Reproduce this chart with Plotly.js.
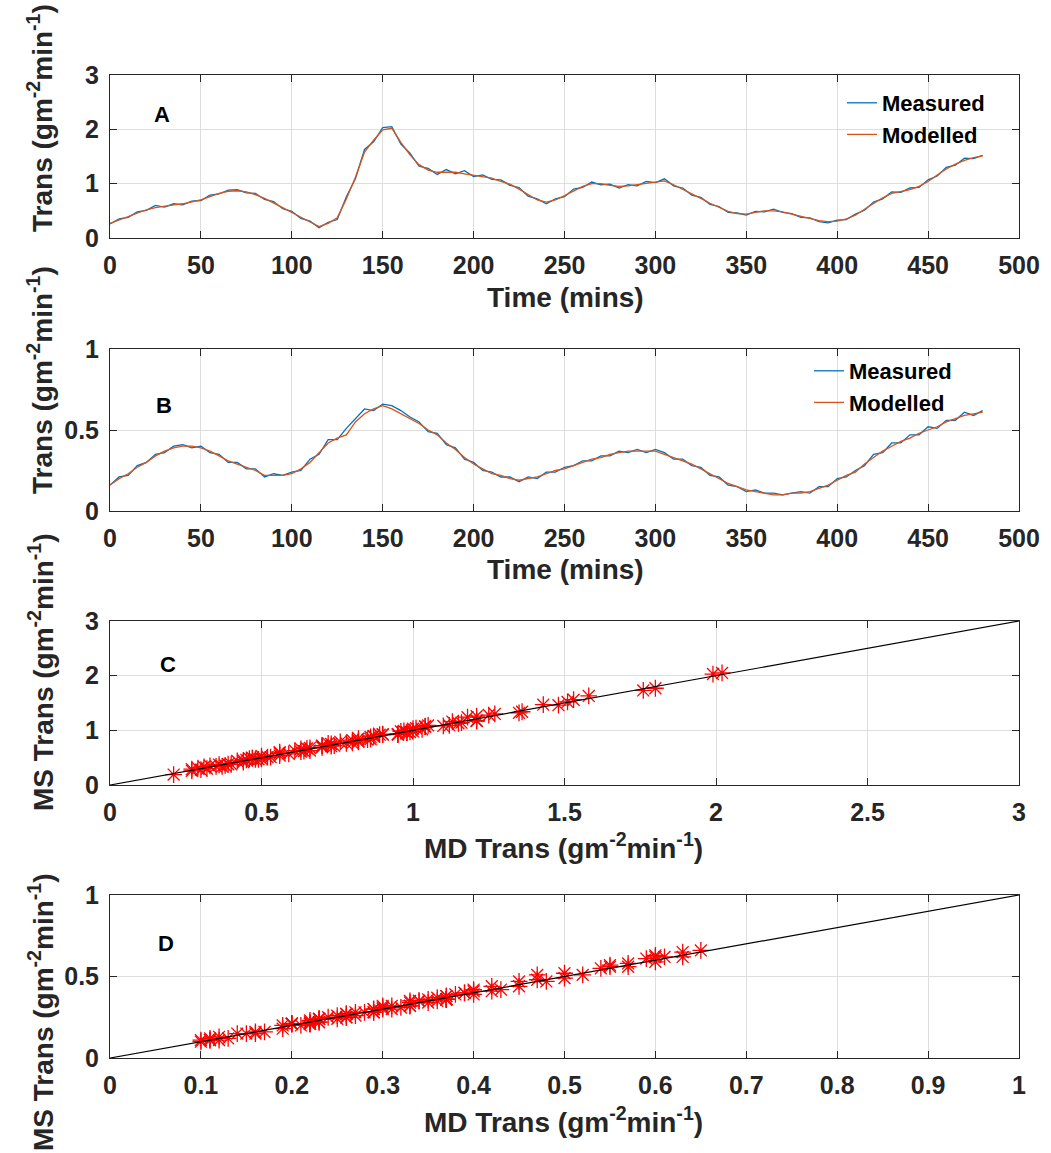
<!DOCTYPE html>
<html>
<head>
<meta charset="utf-8">
<script src="https://cdn.plot.ly/plotly-3.0.1.min.js"></script>
<style>html,body{margin:0;padding:0;background:#fff;}#chart{width:1051px;height:1153px;}</style>
</head>
<body>
<div id="chart"></div>
<script>
// ---------- DATA ----------
const timeMins = [0,5,10,15,20,25,30,35,40,45,50,55,60,65,70,75,80,85,90,95,100,105,110,115,120,125,130,135,140,145,150,155,160,165,170,175,180,185,190,195,200,205,210,215,220,225,230,235,240,245,250,255,260,265,270,275,280,285,290,295,300,305,310,315,320,325,330,335,340,345,350,355,360,365,370,375,380,385,390,395,400,405,410,415,420,425,430,435,440,445,450,455,460,465,470,475,480];

const measuredA = [0.26,0.35,0.38,0.48,0.51,0.60,0.57,0.63,0.61,0.68,0.69,0.79,0.81,0.88,0.89,0.83,0.82,0.71,0.67,0.54,0.49,0.36,0.31,0.19,0.29,0.34,0.76,1.09,1.63,1.77,2.03,2.05,1.73,1.56,1.32,1.28,1.17,1.26,1.18,1.24,1.13,1.16,1.08,1.07,0.97,0.93,0.77,0.72,0.63,0.72,0.76,0.90,0.93,1.03,0.98,0.99,0.92,0.98,0.96,1.04,1.02,1.09,0.96,0.92,0.79,0.75,0.62,0.58,0.47,0.46,0.42,0.49,0.48,0.53,0.47,0.45,0.38,0.37,0.30,0.28,0.33,0.34,0.44,0.51,0.66,0.72,0.85,0.84,0.92,0.93,1.07,1.14,1.30,1.34,1.47,1.46,1.52];

const modelledA = [0.27,0.33,0.39,0.46,0.52,0.56,0.59,0.61,0.63,0.66,0.70,0.76,0.82,0.86,0.87,0.85,0.80,0.73,0.65,0.56,0.47,0.38,0.29,0.21,0.27,0.37,0.72,1.12,1.58,1.80,1.99,2.02,1.76,1.53,1.35,1.25,1.21,1.21,1.21,1.18,1.15,1.13,1.10,1.04,0.99,0.90,0.80,0.70,0.66,0.70,0.78,0.87,0.95,1.00,1.00,0.97,0.95,0.96,0.98,1.01,1.03,1.05,0.98,0.90,0.82,0.73,0.64,0.56,0.49,0.45,0.44,0.47,0.50,0.50,0.48,0.44,0.40,0.36,0.32,0.30,0.31,0.35,0.42,0.53,0.63,0.74,0.82,0.86,0.89,0.95,1.04,1.16,1.27,1.36,1.43,1.48,1.51];

const measuredB = [0.16,0.21,0.22,0.28,0.30,0.35,0.36,0.40,0.41,0.39,0.40,0.36,0.35,0.30,0.30,0.26,0.26,0.21,0.23,0.22,0.24,0.25,0.32,0.35,0.44,0.44,0.51,0.57,0.63,0.62,0.66,0.65,0.62,0.58,0.55,0.49,0.48,0.41,0.39,0.32,0.30,0.25,0.24,0.21,0.21,0.18,0.21,0.20,0.24,0.24,0.27,0.28,0.31,0.31,0.34,0.34,0.37,0.36,0.38,0.36,0.38,0.36,0.32,0.32,0.28,0.27,0.22,0.21,0.16,0.15,0.12,0.13,0.11,0.11,0.10,0.11,0.12,0.11,0.15,0.15,0.20,0.21,0.25,0.28,0.35,0.36,0.42,0.42,0.47,0.47,0.52,0.51,0.56,0.56,0.61,0.59,0.62];

const modelledB = [0.16,0.20,0.23,0.27,0.30,0.34,0.37,0.39,0.40,0.40,0.39,0.37,0.34,0.31,0.29,0.27,0.25,0.22,0.22,0.22,0.23,0.26,0.30,0.36,0.42,0.45,0.47,0.55,0.60,0.63,0.65,0.63,0.60,0.57,0.54,0.50,0.47,0.42,0.38,0.33,0.29,0.26,0.23,0.22,0.20,0.19,0.20,0.21,0.23,0.25,0.26,0.28,0.30,0.32,0.33,0.35,0.36,0.37,0.37,0.37,0.37,0.35,0.33,0.31,0.29,0.26,0.23,0.20,0.17,0.15,0.13,0.12,0.11,0.10,0.10,0.11,0.11,0.12,0.14,0.16,0.19,0.22,0.24,0.29,0.33,0.37,0.40,0.43,0.45,0.48,0.50,0.52,0.55,0.57,0.59,0.60,0.61];

const oneToOneC = [0, 3];
const oneToOneD = [0, 1];

const seriesNames = ['Measured', 'Modelled'];
const panelLetters = ['A', 'B', 'C', 'D'];
const timeTitle = 'Time (mins)';
const transTitle = 'Trans (gm<sup>-2</sup>min<sup>-1</sup>)';
const msTitle = 'MS Trans (gm<sup>-2</sup>min<sup>-1</sup>)';
const mdTitle = 'MD Trans (gm<sup>-2</sup>min<sup>-1</sup>)';

// ---------- STYLE / LAYOUT ----------
const W = 1051, H = 1153;
const px = v => v / W;
const py = v => 1 - v / H;
const FONT = 'Liberation Sans, Arial, Helvetica, sans-serif';
const AX = '#262626';
const BLUE = '#0072BD', ORANGE = '#D95319', RED = '#ff0000';

function axis(domain, range, dtick, anchor) {
  return {
    domain: domain, range: range, dtick: dtick, tick0: 0, anchor: anchor,
    showline: true, linecolor: AX, linewidth: 1, mirror: 'ticks',
    ticks: 'inside', ticklen: 7, tickcolor: AX, tickwidth: 1,
    showgrid: true, gridcolor: '#dedede', gridwidth: 1, zeroline: false,
    tickfont: {family: FONT, size: 25, color: AX, weight: 'bold'},
    ticklabelstandoff: 5, fixedrange: true
  };
}
const xd = [px(110), px(1019)];
const dA = [py(238), py(75)], dB = [py(511), py(349)], dC = [py(785), py(621)], dD = [py(1058), py(895)];

const starMarker = {symbol: 'asterisk-open', size: 14, color: RED, line: {color: RED, width: 1.3}};

const traces = [
  {x: timeMins, y: measuredA, type: 'scatter', mode: 'lines', name: seriesNames[0], line: {color: BLUE, width: 1.3}, xaxis: 'x', yaxis: 'y', legend: 'legend'},
  {x: timeMins, y: modelledA, type: 'scatter', mode: 'lines', name: seriesNames[1], line: {color: ORANGE, width: 1.3}, xaxis: 'x', yaxis: 'y', legend: 'legend'},
  {x: timeMins, y: measuredB, type: 'scatter', mode: 'lines', name: seriesNames[0], line: {color: BLUE, width: 1.3}, xaxis: 'x2', yaxis: 'y2', legend: 'legend2'},
  {x: timeMins, y: modelledB, type: 'scatter', mode: 'lines', name: seriesNames[1], line: {color: ORANGE, width: 1.3}, xaxis: 'x2', yaxis: 'y2', legend: 'legend2'},
  {x: modelledA, y: measuredA, type: 'scatter', mode: 'markers', showlegend: false, marker: starMarker, xaxis: 'x3', yaxis: 'y3'},
  {x: oneToOneC, y: oneToOneC, type: 'scatter', mode: 'lines', showlegend: false, line: {color: '#000', width: 1.2}, xaxis: 'x3', yaxis: 'y3'},
  {x: modelledB, y: measuredB, type: 'scatter', mode: 'markers', showlegend: false, marker: starMarker, xaxis: 'x4', yaxis: 'y4'},
  {x: oneToOneD, y: oneToOneD, type: 'scatter', mode: 'lines', showlegend: false, line: {color: '#000', width: 1.2}, xaxis: 'x4', yaxis: 'y4'}
];

function ann(text, x, y, size, angle, color) {
  return {text: text, x: px(x), y: py(y), xref: 'paper', yref: 'paper', xanchor: 'center', yanchor: 'middle',
    showarrow: false, textangle: angle || 0, font: {family: FONT, size: size, color: color || '#000', weight: 'bold'}};
}

const legendFont = {family: FONT, size: 22, color: '#000', weight: 'bold'};
const layout = {
  width: W, height: H, margin: {l: 0, r: 0, t: 0, b: 0},
  paper_bgcolor: '#fff', plot_bgcolor: '#fff', showlegend: true,
  xaxis: axis(xd, [0, 500], 50, 'y'),
  yaxis: axis(dA, [0, 3], 1, 'x'),
  xaxis2: axis(xd, [0, 500], 50, 'y2'),
  yaxis2: axis(dB, [0, 1], 0.5, 'x2'),
  xaxis3: axis(xd, [0, 3], 0.5, 'y3'),
  yaxis3: axis(dC, [0, 3], 1, 'x3'),
  xaxis4: axis(xd, [0, 1], 0.1, 'y4'),
  yaxis4: axis(dD, [0, 1], 0.5, 'x4'),
  legend: {x: px(842), y: py(82), xanchor: 'left', yanchor: 'top', bgcolor: 'rgba(0,0,0,0)', borderwidth: 0, font: legendFont, tracegroupgap: 0},
  legend2: {x: px(809), y: py(350), xanchor: 'left', yanchor: 'top', bgcolor: 'rgba(0,0,0,0)', borderwidth: 0, font: legendFont, tracegroupgap: 0},
  annotations: [
    ann(panelLetters[0], 162, 114, 22),
    ann(panelLetters[1], 164, 405, 22),
    ann(panelLetters[2], 168, 664, 22),
    ann(panelLetters[3], 166, 943, 22),
    ann(timeTitle, 565, 297, 28, 0, AX),
    ann(timeTitle, 565, 570, 28, 0, AX),
    ann(mdTitle, 563, 846, 28, 0, AX),
    ann(mdTitle, 563, 1120, 28, 0, AX),
    ann(transTitle, 40, 118, 28, -90, AX),
    ann(transTitle, 40, 380, 28, -90, AX),
    ann(msTitle, 41, 672, 28, -90, AX),
    ann(msTitle, 41, 1012, 28, -90, AX)
  ]
};

Plotly.newPlot('chart', traces, layout, {displayModeBar: false, staticPlot: true});
</script>
</body>
</html>
